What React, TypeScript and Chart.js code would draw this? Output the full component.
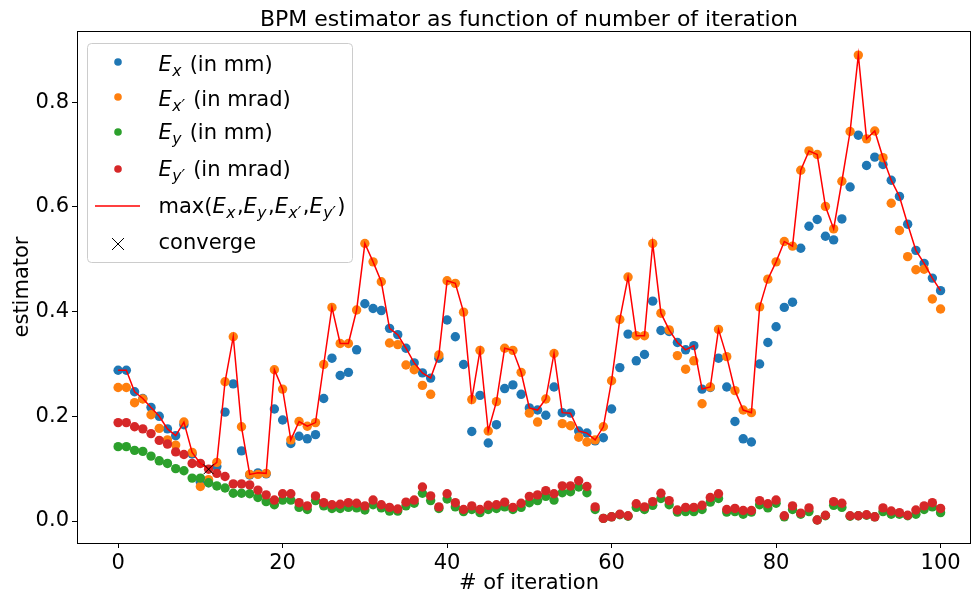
import React, { useEffect, useRef } from 'react';
import { Chart, registerables } from 'chart.js';

Chart.register(...registerables);

// ---------- data ----------
const ITERATIONS: number[] = Array.from({ length: 101 }, (_, i) => i);

const E_X: number[] = [
  0.288, 0.288, 0.247, 0.234, 0.217, 0.200, 0.176, 0.163, 0.184, 0.128,
  0.074, 0.073, 0.104, 0.208, 0.262, 0.134, 0.088, 0.092, 0.090, 0.214,
  0.193, 0.148, 0.162, 0.157, 0.165, 0.234, 0.311, 0.278, 0.284, 0.327,
  0.415, 0.406, 0.402, 0.368, 0.356, 0.330, 0.302, 0.283, 0.273, 0.311,
  0.384, 0.352, 0.299, 0.171, 0.240, 0.149, 0.184, 0.253, 0.260, 0.242,
  0.216, 0.212, 0.202, 0.256, 0.207, 0.206, 0.172, 0.168, 0.153, 0.159,
  0.214, 0.293, 0.357, 0.306, 0.318, 0.420, 0.364, 0.362, 0.341, 0.327,
  0.335, 0.252, 0.255, 0.311, 0.256, 0.190, 0.157, 0.151, 0.300, 0.341,
  0.371, 0.408, 0.418, 0.521, 0.563, 0.576, 0.544, 0.537, 0.577, 0.638,
  0.737, 0.679, 0.695, 0.681, 0.651, 0.620, 0.567, 0.517, 0.492, 0.464,
  0.440,
];

const E_XP: number[] = [
  0.255, 0.255, 0.226, 0.233, 0.203, 0.177, 0.155, 0.145, 0.189, 0.131,
  0.066, 0.079, 0.112, 0.266, 0.352, 0.180, 0.089, 0.089, 0.091, 0.289,
  0.252, 0.155, 0.190, 0.181, 0.188, 0.299, 0.408, 0.339, 0.339, 0.403,
  0.530, 0.495, 0.457, 0.340, 0.337, 0.298, 0.289, 0.259, 0.242, 0.317,
  0.459, 0.454, 0.399, 0.232, 0.326, 0.172, 0.228, 0.330, 0.326, 0.284,
  0.206, 0.189, 0.233, 0.320, 0.186, 0.182, 0.160, 0.151, 0.155, 0.180,
  0.268, 0.385, 0.466, 0.354, 0.354, 0.530, 0.397, 0.365, 0.316, 0.290,
  0.306, 0.224, 0.256, 0.366, 0.314, 0.249, 0.212, 0.207, 0.409, 0.462,
  0.495, 0.534, 0.525, 0.670, 0.707, 0.700, 0.601, 0.558, 0.649, 0.744,
  0.890, 0.730, 0.745, 0.694, 0.607, 0.555, 0.505, 0.480, 0.481, 0.424,
  0.405,
];

const E_Y: number[] = [
  0.142, 0.142, 0.135, 0.133, 0.124, 0.115, 0.110, 0.100, 0.096, 0.082,
  0.082, 0.073, 0.067, 0.063, 0.053, 0.053, 0.052, 0.045, 0.037, 0.031,
  0.040, 0.040, 0.026, 0.022, 0.039, 0.029, 0.024, 0.024, 0.026, 0.025,
  0.021, 0.031, 0.025, 0.019, 0.019, 0.029, 0.034, 0.053, 0.039, 0.024,
  0.042, 0.027, 0.018, 0.022, 0.016, 0.022, 0.024, 0.027, 0.022, 0.026,
  0.035, 0.039, 0.047, 0.040, 0.054, 0.056, 0.065, 0.054, 0.022, 0.005,
  0.008, 0.012, 0.009, 0.026, 0.022, 0.030, 0.043, 0.031, 0.017, 0.018,
  0.018, 0.022, 0.036, 0.043, 0.017, 0.018, 0.013, 0.017, 0.031, 0.025,
  0.034, 0.008, 0.022, 0.013, 0.018, 0.002, 0.010, 0.030, 0.026, 0.009,
  0.010, 0.011, 0.008, 0.018, 0.013, 0.013, 0.010, 0.013, 0.022, 0.027,
  0.016,
];

const E_YP: number[] = [
  0.188, 0.188, 0.180, 0.176, 0.167, 0.154, 0.147, 0.132, 0.127, 0.110,
  0.110, 0.099, 0.091, 0.085, 0.071, 0.071, 0.069, 0.059, 0.050, 0.040,
  0.052, 0.052, 0.035, 0.029, 0.048, 0.035, 0.031, 0.032, 0.035, 0.034,
  0.029, 0.040, 0.031, 0.026, 0.023, 0.036, 0.040, 0.065, 0.048, 0.027,
  0.052, 0.035, 0.022, 0.029, 0.022, 0.030, 0.031, 0.036, 0.026, 0.034,
  0.047, 0.050, 0.058, 0.052, 0.067, 0.067, 0.077, 0.066, 0.027, 0.005,
  0.008, 0.013, 0.010, 0.033, 0.027, 0.037, 0.053, 0.039, 0.021, 0.026,
  0.026, 0.030, 0.045, 0.052, 0.022, 0.024, 0.020, 0.020, 0.039, 0.033,
  0.040, 0.010, 0.029, 0.015, 0.025, 0.002, 0.011, 0.037, 0.034, 0.010,
  0.010, 0.012, 0.008, 0.025, 0.019, 0.016, 0.011, 0.021, 0.029, 0.035,
  0.024,
];

const CONVERGE_X: number[] = [11];
const CONVERGE_Y: number[] = [0.099];

const X_TICKS: number[] = [0, 20, 40, 60, 80, 100];
const Y_TICKS: number[] = [0.0, 0.2, 0.4, 0.6, 0.8];

const TITLE = 'BPM estimator as function of number of iteration';
const X_LABEL = '# of iteration';
const Y_LABEL = 'estimator';

// ---------- styling ----------
const FONT = '"DejaVu Sans", "Liberation Sans", sans-serif';
const C_BLUE = '#1f77b4';
const C_ORANGE = '#ff7f0e';
const C_GREEN = '#2ca02c';
const C_RED = '#d62728';
const C_LINE = '#ff0000';

const MAX_E: number[] = E_X.map((v, i) => Math.max(v, E_XP[i], E_Y[i], E_YP[i]));

const toPts = (ys: number[]) => ys.map((y, i) => ({ x: ITERATIONS[i], y }));

type Part = { t: string; it?: boolean; sub?: boolean };

function drawRich(ctx: CanvasRenderingContext2D, x: number, y: number, parts: Part[], size: number) {
  let cx = x;
  for (const p of parts) {
    const s = p.sub ? size * 0.74 : size;
    ctx.font = `${p.it ? 'italic ' : ''}${s}px ${FONT}`;
    const yy = p.sub ? y + size * 0.22 : y;
    ctx.fillText(p.t, cx, yy);
    cx += ctx.measureText(p.t).width + (p.sub ? 1.5 : p.it ? 0.5 : 0);
  }
}

const LEGEND_ROWS: { kind: 'dot' | 'line' | 'x'; color: string; parts: Part[]; my: number; by: number }[] = [
  { kind: 'dot', color: C_BLUE, parts: [{ t: 'E', it: true }, { t: 'x', it: true, sub: true }, { t: ' (in mm)' }], my: 62, by: 71 },
  { kind: 'dot', color: C_ORANGE, parts: [{ t: 'E', it: true }, { t: 'x\u2032', it: true, sub: true }, { t: ' (in mrad)' }], my: 97, by: 106 },
  { kind: 'dot', color: C_GREEN, parts: [{ t: 'E', it: true }, { t: 'y', it: true, sub: true }, { t: ' (in mm)' }], my: 132, by: 139 },
  { kind: 'dot', color: C_RED, parts: [{ t: 'E', it: true }, { t: 'y\u2032', it: true, sub: true }, { t: ' (in mrad)' }], my: 169, by: 176 },
  {
    kind: 'line', color: C_LINE,
    parts: [
      { t: 'max(' }, { t: 'E', it: true }, { t: 'x', it: true, sub: true }, { t: ',' },
      { t: 'E', it: true }, { t: 'y', it: true, sub: true }, { t: ',' },
      { t: 'E', it: true }, { t: 'x\u2032', it: true, sub: true }, { t: ',' },
      { t: 'E', it: true }, { t: 'y\u2032', it: true, sub: true }, { t: ')' },
    ],
    my: 206, by: 213,
  },
  { kind: 'x', color: '#000', parts: [{ t: 'converge' }], my: 244, by: 249 },
];

const decorPlugin = {
  id: 'decor',
  afterDraw(chart: any) {
    const { ctx, chartArea: a } = chart;
    ctx.save();
    // spines
    ctx.strokeStyle = '#000';
    ctx.lineWidth = 1;
    ctx.strokeRect(a.left + 0.5, a.top + 0.5, a.right - a.left - 1, a.bottom - a.top);

    ctx.fillStyle = '#000';
    const cx = 529;
    // title
    ctx.font = `22px ${FONT}`;
    ctx.textAlign = 'center';
    ctx.textBaseline = 'alphabetic';
    ctx.fillText(TITLE, cx, 26);
    // x label
    ctx.font = `21px ${FONT}`;
    ctx.fillText(X_LABEL, cx, 589);
    // y label
    ctx.save();
    ctx.translate(28, (a.top + a.bottom) / 2);
    ctx.rotate(-Math.PI / 2);
    ctx.fillText(Y_LABEL, 0, 0);
    ctx.restore();

    // legend
    const bx = 87.5, by = 43.5, bw = 265, bh = 219;
    ctx.beginPath();
    (ctx as any).roundRect(bx, by, bw, bh, 4);
    ctx.fillStyle = 'rgba(255,255,255,0.8)';
    ctx.fill();
    ctx.strokeStyle = '#cccccc';
    ctx.lineWidth = 1;
    ctx.stroke();

    ctx.textAlign = 'left';
    ctx.textBaseline = 'alphabetic';
    for (const r of LEGEND_ROWS) {
      if (r.kind === 'dot') {
        ctx.beginPath();
        ctx.arc(118, r.my, 3.8, 0, Math.PI * 2);
        ctx.fillStyle = r.color;
        ctx.fill();
      } else if (r.kind === 'line') {
        ctx.beginPath();
        ctx.moveTo(95, r.my);
        ctx.lineTo(140, r.my);
        ctx.strokeStyle = r.color;
        ctx.lineWidth = 1.5;
        ctx.stroke();
      } else {
        ctx.beginPath();
        ctx.moveTo(112, r.my - 6);
        ctx.lineTo(124, r.my + 6);
        ctx.moveTo(124, r.my - 6);
        ctx.lineTo(112, r.my + 6);
        ctx.strokeStyle = '#000';
        ctx.lineWidth = 1;
        ctx.stroke();
      }
      ctx.fillStyle = '#000';
      drawRich(ctx, 158.5, r.by, r.parts, 21);
    }
    ctx.restore();
  },
};

export default function App() {
  const ref = useRef<HTMLCanvasElement>(null);

  useEffect(() => {
    document.body.style.margin = '0';
    const canvas = ref.current!;
    const dot = (label: string, data: number[], color: string, order: number) => ({
      label,
      data: toPts(data),
      backgroundColor: color,
      borderColor: color,
      borderWidth: 0,
      pointRadius: 4.7,
      pointHoverRadius: 4.7,
      showLine: false,
      order,
    });
    const chart = new Chart(canvas, {
      type: 'scatter',
      data: {
        datasets: [
          dot('E_x (in mm)', E_X, C_BLUE, 6),
          dot("E_x' (in mrad)", E_XP, C_ORANGE, 5),
          dot('E_y (in mm)', E_Y, C_GREEN, 4),
          dot("E_y' (in mrad)", E_YP, C_RED, 3),
          {
            label: 'max',
            data: toPts(MAX_E),
            showLine: true,
            borderColor: C_LINE,
            backgroundColor: C_LINE,
            borderWidth: 1.5,
            pointRadius: 0,
            pointHoverRadius: 0,
            tension: 0,
            order: 2,
          } as any,
          {
            label: 'converge',
            data: CONVERGE_X.map((x, i) => ({ x, y: CONVERGE_Y[i] })),
            pointStyle: 'crossRot',
            pointRadius: 7,
            borderColor: '#000',
            backgroundColor: '#000',
            borderWidth: 1,
            showLine: false,
            order: 1,
          } as any,
        ],
      },
      options: {
        animation: false,
        responsive: false,
        devicePixelRatio: 1,
        layout: { autoPadding: false, padding: { top: 31, right: 1, left: 0, bottom: 0 } },
        plugins: {
          legend: { display: false },
          title: { display: false },
          tooltip: { enabled: false },
        },
        events: [],
        scales: {
          x: {
            type: 'linear',
            min: -5,
            max: 103.7,
            afterBuildTicks: (s: any) => { s.ticks = X_TICKS.map((v) => ({ value: v })); },
            afterFit: (s: any) => { s.height = 53; s.paddingLeft = 0; s.paddingRight = 0; },
            ticks: {
              font: { family: FONT, size: 21 },
              color: '#000',
              padding: 3,
              maxRotation: 0,
              autoSkip: false,
              callback: (v: any) => String(v),
            },
            grid: { drawOnChartArea: false, drawTicks: true, tickLength: 5, color: '#000' },
            border: { display: false },
          },
          y: {
            type: 'linear',
            min: -0.042,
            max: 0.936,
            afterBuildTicks: (s: any) => { s.ticks = Y_TICKS.map((v) => ({ value: v })); },
            afterFit: (s: any) => { s.width = 77; s.paddingTop = 0; s.paddingBottom = 0; },
            ticks: {
              font: { family: FONT, size: 21 },
              color: '#000',
              padding: 3,
              autoSkip: false,
              callback: (v: any) => Number(v).toFixed(1),
            },
            grid: { drawOnChartArea: false, drawTicks: true, tickLength: 5, color: '#000' },
            border: { display: false },
          },
        },
      },
      plugins: [decorPlugin],
    } as any);
    return () => chart.destroy();
  }, []);

  return (
    <div style={{ width: 972, height: 596, position: 'relative' }}>
      <canvas ref={ref} width={972} height={596} style={{ display: 'block' }} />
    </div>
  );
}
